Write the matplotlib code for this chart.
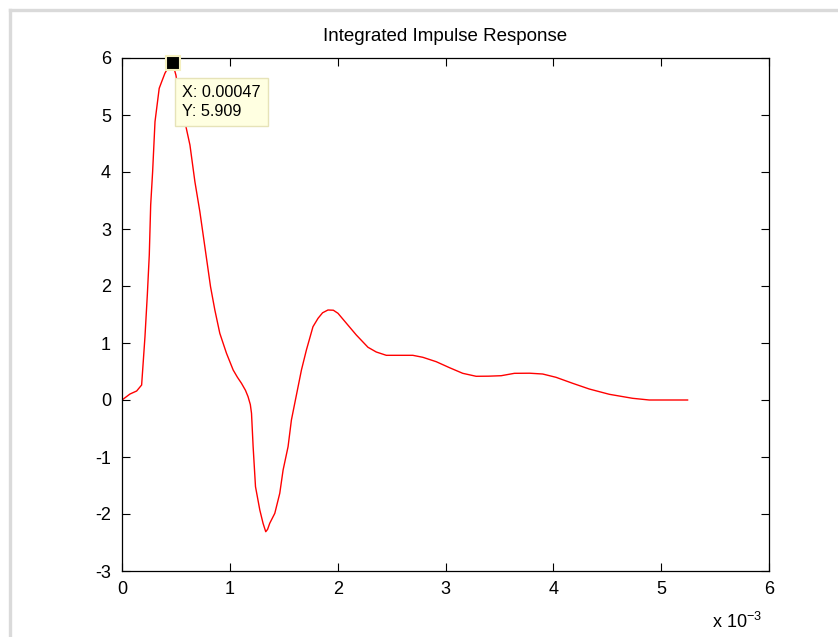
import matplotlib
matplotlib.use("Agg")
import matplotlib.pyplot as plt
from matplotlib.ticker import FuncFormatter, MultipleLocator
from matplotlib.lines import Line2D

plt.rcParams['font.family'] = ['Liberation Sans', 'DejaVu Sans']
plt.rcParams['mathtext.fontset'] = 'custom'
plt.rcParams['mathtext.rm'] = 'Liberation Sans'

# Integrated impulse response (time in seconds)
t = [0.0, 0.074e-3, 0.136e-3, 0.182e-3, 0.197e-3, 0.213e-3, 0.235e-3, 0.253e-3,
     0.266e-3, 0.284e-3, 0.306e-3, 0.345e-3, 0.368e-3, 0.398e-3, 0.43e-3, 0.47e-3,
     0.50e-3, 0.537e-3, 0.583e-3, 0.630e-3, 0.676e-3, 0.722e-3, 0.760e-3, 0.821e-3,
     0.861e-3, 0.907e-3, 0.969e-3, 1.031e-3, 1.070e-3, 1.108e-3, 1.145e-3, 1.169e-3,
     1.190e-3, 1.201e-3, 1.216e-3,
     1.238e-3, 1.278e-3, 1.308e-3, 1.333e-3, 1.350e-3, 1.370e-3, 1.417e-3, 1.463e-3,
     1.494e-3, 1.540e-3, 1.571e-3, 1.602e-3, 1.664e-3, 1.710e-3, 1.771e-3, 1.818e-3,
     1.860e-3, 1.910e-3, 1.960e-3, 2.003e-3, 2.081e-3, 2.173e-3, 2.281e-3, 2.358e-3,
     2.451e-3, 2.697e-3, 2.790e-3, 2.914e-3, 3.037e-3, 3.160e-3, 3.284e-3, 3.400e-3,
     3.516e-3, 3.639e-3, 3.780e-3, 3.901e-3, 4.025e-3, 4.179e-3, 4.333e-3, 4.519e-3,
     4.734e-3, 4.889e-3, 5.245e-3]
response = [0.0, 0.105, 0.158, 0.263, 0.672, 1.111, 1.85, 2.544,
            3.421, 4.005, 4.882, 5.468, 5.584, 5.732, 5.84, 5.909,
            5.70, 5.263, 4.882, 4.474, 3.830, 3.304, 2.80, 1.988,
            1.579, 1.170, 0.819, 0.526, 0.40, 0.293, 0.17, 0.058,
            -0.08, -0.233, -0.819,
            -1.521, -1.930, -2.163, -2.311, -2.27, -2.163, -1.988, -1.637,
            -1.228, -0.819, -0.351, -0.058, 0.526, 0.877, 1.286, 1.433,
            1.53, 1.579, 1.575, 1.521, 1.346, 1.140, 0.925, 0.842,
            0.784, 0.784, 0.749, 0.672, 0.567, 0.468, 0.416, 0.418,
            0.426, 0.468, 0.47, 0.456, 0.398, 0.293, 0.193, 0.100,
            0.030, 0.0, 0.0]

tip_t = 0.00047
tip_y = 5.909

fig = plt.figure(figsize=(8.38, 6.37), dpi=100)
fig.patch.set_facecolor('white')

# light grey window frame along the top and left edges
fig.add_artist(Line2D([9.5 / 838, 9.5 / 838], [0, 1 - 9.5 / 637],
                      transform=fig.transFigure, color='#dadada', lw=2.4))
fig.add_artist(Line2D([9.5 / 838, 1], [1 - 9.5 / 637, 1 - 9.5 / 637],
                      transform=fig.transFigure, color='#dadada', lw=2.4))

ax = fig.add_axes([122 / 838, 1 - 571 / 637, (769 - 122) / 838, (571 - 58) / 637])
ax.plot(t, response, color='red', lw=1.0)

ax.set_xlim(0, 6e-3)
ax.set_ylim(-3, 6)
ax.xaxis.set_major_locator(MultipleLocator(1e-3))
ax.yaxis.set_major_locator(MultipleLocator(1))
ax.xaxis.set_major_formatter(FuncFormatter(lambda v, p: f"{v * 1e3:g}"))
ax.yaxis.set_major_formatter(FuncFormatter(lambda v, p: f"{v:g}"))
ax.tick_params(direction='in', length=6, width=0.8, top=True, right=True,
               labelsize=13, colors='black')
ax.tick_params(axis='x', pad=7)
ax.tick_params(axis='y', pad=8)
for s in ax.spines.values():
    s.set_linewidth(0.9)

ax.set_title('Integrated Impulse Response', fontsize=13.5, pad=12)
fig.text(762 / 838, 1 - 622 / 637, r'x 10$^{\mathregular{-3}}$', ha='right', va='center',
         fontsize=13)

# data tip
ax.plot([tip_t], [tip_y], marker='s', ms=10, mfc='black', mec='#f5f0c0', mew=1.5,
        clip_on=False, zorder=5)
ax.annotate(f"X: {tip_t:g}\nY: {tip_y:g}", xy=(tip_t, tip_y), xytext=(7, -16),
            textcoords='offset points', ha='left', va='top', fontsize=11.7,
            linespacing=1.3,
            bbox=dict(boxstyle='square,pad=0.45', fc='#ffffe1', ec='#e6e3b8', lw=1.0),
            zorder=6)

fig.savefig('out.png', dpi=100)
